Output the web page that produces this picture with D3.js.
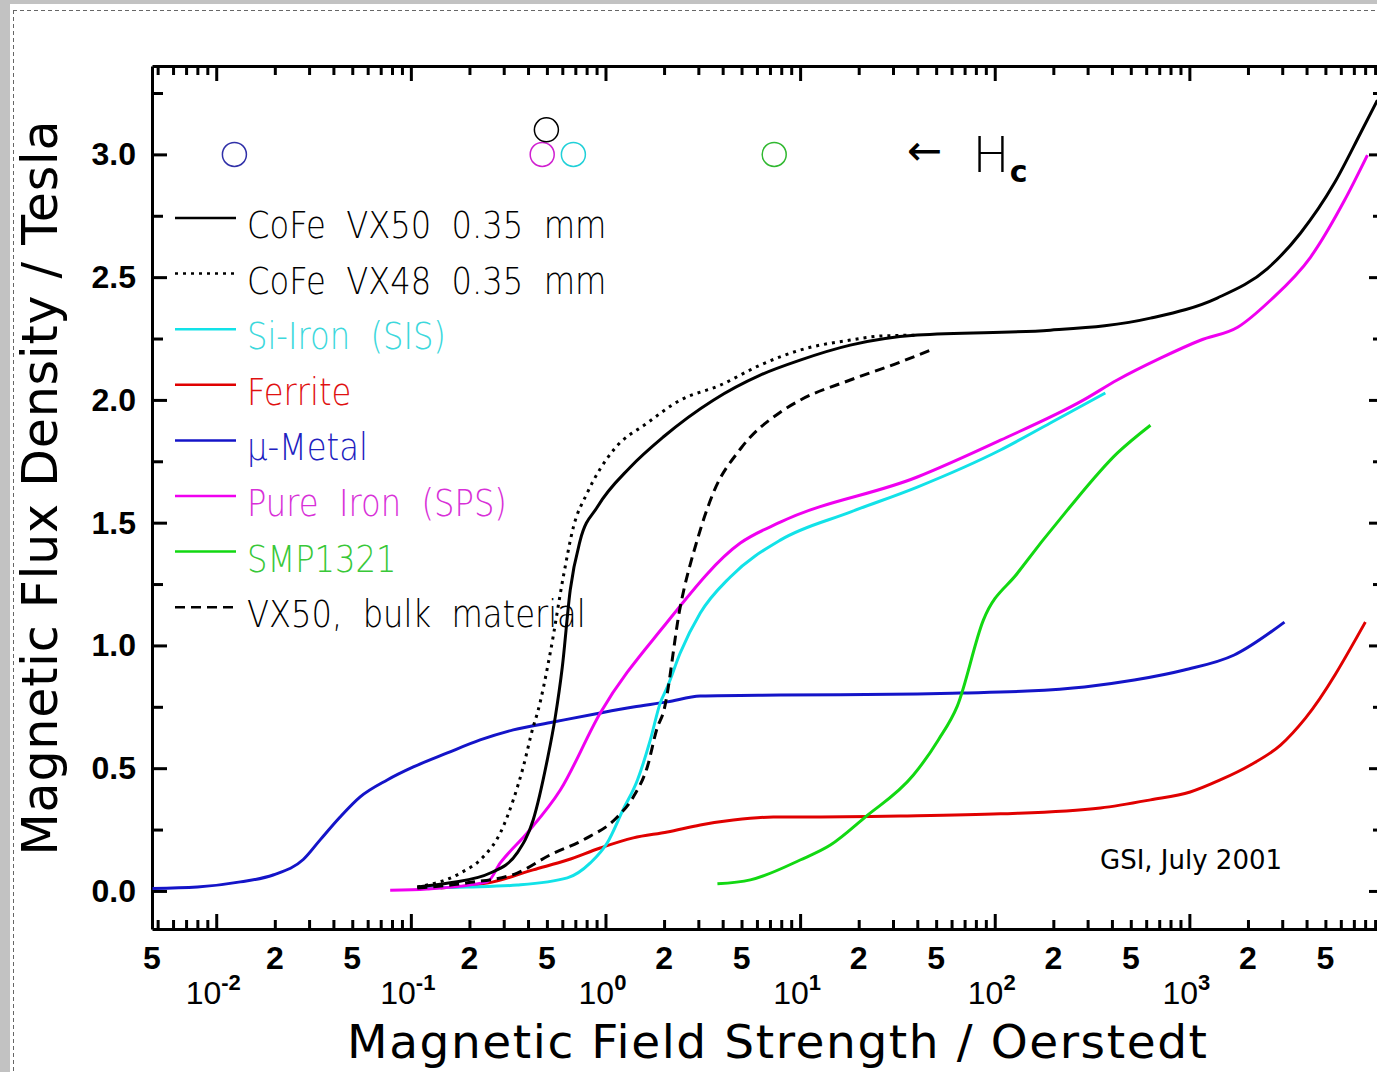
<!DOCTYPE html>
<html>
<head>
<meta charset="utf-8">
<script src="https://cdn.jsdelivr.net/npm/d3@7"></script>
<style>
  body { margin: 0; background: #fff; }
  svg { display: block; }
</style>
</head>
<body>
<div id="chart"></div>
<script>
// ---- data (H in Oersted, B in Tesla) ----
const legendNames = ["CoFe VX50 0.35 mm", "CoFe VX48 0.35 mm", "Si-Iron (SIS)", "Ferrite",
                     "\u00b5-Metal", "Pure Iron (SPS)", "SMP1321", "VX50, bulk material"];

const cofeVx50H = [0.108, 0.159, 0.256, 0.352, 0.425, 0.502, 0.552, 0.600, 0.659, 0.742, 0.908, 1.34, 1.98, 3.58, 6.24, 10, 18.1, 40, 193, 631, 1390, 2520, 3720, 5560, 7570, 9250];
const cofeVx50B = [0.016, 0.033, 0.073, 0.155, 0.289, 0.533, 0.708, 0.912, 1.226, 1.429, 1.564, 1.726, 1.849, 1.999, 2.101, 2.162, 2.223, 2.264, 2.284, 2.333, 2.415, 2.535, 2.679, 2.883, 3.086, 3.221];

const cofeVx48H = [0.108, 0.180, 0.235, 0.288, 0.336, 0.378, 0.425, 0.447, 0.520, 0.607, 0.684, 0.806, 1.10, 1.64, 2.42, 3.89, 6.24, 10, 18.1, 25.8, 40];
const cofeVx48B = [0.016, 0.073, 0.138, 0.236, 0.371, 0.505, 0.668, 0.725, 0.969, 1.279, 1.482, 1.621, 1.796, 1.906, 1.999, 2.06, 2.142, 2.203, 2.244, 2.26, 2.264];

const siIronH = [0.121, 0.195, 0.352, 0.637, 0.836, 1.02, 1.23, 1.46, 1.70, 1.91, 2.08, 2.42, 3.07, 4.38, 7.91, 18.1, 40, 107, 193, 370];
const siIronB = [0.012, 0.016, 0.024, 0.053, 0.114, 0.195, 0.330, 0.452, 0.615, 0.765, 0.831, 0.969, 1.132, 1.279, 1.429, 1.543, 1.645, 1.796, 1.906, 2.028];

const ferriteH = [0.142, 0.265, 0.425, 0.637, 0.94, 1.39, 2.08, 3.07, 4.54, 7.28, 10, 32.7, 107, 349, 631, 1010, 1440, 2060, 2940, 3950, 8020];
const ferriteB = [0.012, 0.037, 0.086, 0.126, 0.175, 0.216, 0.240, 0.269, 0.289, 0.301, 0.301, 0.305, 0.314, 0.338, 0.371, 0.403, 0.452, 0.513, 0.594, 0.704, 1.095];

const muMetalH = [0.0047, 0.008, 0.0133, 0.0196, 0.028, 0.0342, 0.0433, 0.0549, 0.0756, 0.103, 0.154, 0.227, 0.336, 0.539, 0.94, 1.39, 2.08, 3.07, 7.9, 40, 66.5, 147, 289, 521, 942, 1700, 3080];
const muMetalB = [0.010, 0.016, 0.037, 0.065, 0.128, 0.208, 0.301, 0.383, 0.452, 0.505, 0.562, 0.615, 0.656, 0.688, 0.725, 0.749, 0.770, 0.794, 0.798, 0.802, 0.806, 0.814, 0.831, 0.859, 0.900, 0.961, 1.095];

const pureIronH = [0.0783, 0.121, 0.247, 0.288, 0.396, 0.586, 0.94, 1.98, 4.93, 7.91, 40, 107, 285, 426, 710, 1140, 1770, 2610, 4190, 6270, 8220];
const pureIronB = [0.003, 0.008, 0.037, 0.114, 0.236, 0.411, 0.725, 1.075, 1.417, 1.502, 1.686, 1.836, 1.999, 2.081, 2.170, 2.243, 2.296, 2.406, 2.581, 2.813, 2.997];

const smpH = [3.76, 5.55, 10, 14.3, 21.6, 38.2, 51.3, 64.2, 87.4, 131, 236, 426, 631];
const smpB = [0.029, 0.045, 0.126, 0.187, 0.301, 0.472, 0.615, 0.753, 1.103, 1.295, 1.551, 1.783, 1.897];

const bulkH = [0.108, 0.195, 0.352, 0.520, 0.768, 1.15, 1.39, 1.64, 1.85, 1.98, 2.42, 2.96, 3.58, 4.93, 7.91, 10, 18.1, 32.7, 46.7];
const bulkB = [0.012, 0.033, 0.073, 0.147, 0.208, 0.301, 0.383, 0.505, 0.668, 0.725, 1.156, 1.429, 1.621, 1.800, 1.950, 1.999, 2.081, 2.154, 2.203];

// coercive field markers (H_c), drawn near the top of the plot
const hcMaterial = ["\u00b5-Metal", "Pure Iron (SPS)", "CoFe VX50 0.35 mm", "Si-Iron (SIS)", "SMP1321"];
const hcH = [0.0124, 0.473, 0.497, 0.684, 7.36];
const hcB = [3.0, 3.0, 3.1, 3.0, 3.0];

// tick labels
const yLabelValues = [0, 0.5, 1.0, 1.5, 2.0, 2.5, 3.0];
const yLabelText = ["0.0", "0.5", "1.0", "1.5", "2.0", "2.5", "3.0"];
const xLabelValues = [0.005, 0.02, 0.05, 0.2, 0.5, 2, 5, 20, 50, 200, 500, 2000, 5000];
const xLabelText = ["5", "2", "5", "2", "5", "2", "5", "2", "5", "2", "5", "2", "5"];
const decadeValues = [0.01, 0.1, 1, 10, 100, 1000];
const decadeExp = ["-2", "-1", "0", "1", "2", "3"];

// ---- layout ----
const W = 1377, H = 1072;
const plot = { left: 152, right: 1384, top: 66, bottom: 929 };

const styleOf = {
    "CoFe VX50 0.35 mm": { color: "#000000", text: "#000000", dash: null },
    "CoFe VX48 0.35 mm": { color: "#000000", text: "#000000", dash: "3,5" },
    "Si-Iron (SIS)":     { color: "#12e2e8", text: "#3cd8dc", dash: null },
    "Ferrite":           { color: "#e00000", text: "#e01010", dash: null },
    "\u00b5-Metal":      { color: "#1414c8", text: "#2020c0", dash: null },
    "Pure Iron (SPS)":   { color: "#f000f0", text: "#d830d8", dash: null },
    "SMP1321":           { color: "#12d812", text: "#38c838", dash: null },
    "VX50, bulk material": { color: "#000000", text: "#000000", dash: "10,6" }
};
const hcColor = ["#3030a8", "#d020d0", "#000000", "#20d0d8", "#30b830"];

const svg = d3.select("#chart")
    .append("svg")
    .attr("width", W)
    .attr("height", H);

// grey window edge + dashed frame like the original screenshot
svg.append("rect").attr("width", W).attr("height", H).attr("fill", "#c2c2c2");
svg.append("rect").attr("x", 10).attr("y", 4).attr("width", W - 10).attr("height", H - 4).attr("fill", "#fff");
svg.append("line").attr("x1", 13.5).attr("x2", 13.5).attr("y1", 10).attr("y2", H)
    .attr("stroke", "#666").attr("stroke-dasharray", "4,3");
svg.append("line").attr("x1", 13).attr("x2", W).attr("y1", 10.5).attr("y2", 10.5)
    .attr("stroke", "#666").attr("stroke-dasharray", "4,3");

// scales
const x = d3.scaleLog()
    .domain([Math.pow(10, -2.33), 1e4])
    .range([plot.left, plot.right]);

const y = d3.scaleLinear()
    .domain([-0.155, 3.36])
    .range([plot.bottom, plot.top]);

// all log ticks inside the domain
const xTicks = [];
for (let n = -3; n <= 4; n++) {
    for (let k = 1; k <= 9; k++) {
        const v = k * Math.pow(10, n);
        if (v >= x.domain()[0] && v <= x.domain()[1]) xTicks.push(v);
    }
}
const isDecade = v => Math.abs(Math.log10(v) - Math.round(Math.log10(v))) < 1e-9;
const yTicks = d3.range(0, 3.26, 0.25);
const isHalf = v => Math.abs(v * 2 - Math.round(v * 2)) < 1e-9;

function styleAxis(g) {
    g.selectAll("path, line").attr("stroke", "#000").attr("stroke-width", 3);
    g.selectAll("text").remove();
}

// bottom & top axes (ticks point inward)
svg.append("g")
    .attr("transform", "translate(0," + plot.bottom + ")")
    .call(d3.axisBottom(x).tickValues(xTicks).tickSize(-9).tickSizeOuter(0).tickFormat(""))
    .call(styleAxis)
    .selectAll(".tick line").filter(d => isDecade(d)).attr("y2", -15);

svg.append("g")
    .attr("transform", "translate(0," + plot.top + ")")
    .call(d3.axisTop(x).tickValues(xTicks).tickSize(-9).tickSizeOuter(0).tickFormat(""))
    .call(styleAxis)
    .selectAll(".tick line").filter(d => isDecade(d)).attr("y2", 15);

// left & right axes
svg.append("g")
    .attr("transform", "translate(" + plot.left + ",0)")
    .call(d3.axisLeft(y).tickValues(yTicks).tickSize(-11).tickSizeOuter(0).tickFormat(""))
    .call(styleAxis)
    .selectAll(".tick line").filter(d => isHalf(d)).attr("x2", 15);

svg.append("g")
    .attr("transform", "translate(" + plot.right + ",0)")
    .call(d3.axisRight(y).tickValues(yTicks).tickSize(-11).tickSizeOuter(0).tickFormat(""))
    .call(styleAxis)
    .selectAll(".tick line").filter(d => isHalf(d)).attr("x2", -15);

// tick labels
svg.append("g").selectAll("text")
    .data(yLabelValues)
    .join("text")
    .attr("x", 136)
    .attr("y", d => y(d) + 11)
    .attr("text-anchor", "end")
    .style("font-family", "Liberation Sans, Arial, sans-serif")
    .style("font-weight", "bold")
    .style("font-size", "32px")
    .text((d, i) => yLabelText[i]);

svg.append("g").selectAll("text")
    .data(xLabelValues)
    .join("text")
    .attr("x", (d, i) => i === 0 ? plot.left : x(d))
    .attr("y", 969)
    .attr("text-anchor", "middle")
    .style("font-family", "Liberation Sans, Arial, sans-serif")
    .style("font-weight", "bold")
    .style("font-size", "32px")
    .text((d, i) => xLabelText[i]);

const dec = svg.append("g").selectAll("text")
    .data(decadeValues)
    .join("text")
    .attr("x", d => x(d) - 3)
    .attr("y", 1004)
    .attr("text-anchor", "middle")
    .style("font-family", "Liberation Sans, Arial, sans-serif")
    .style("font-size", "32px");
dec.append("tspan").text("10");
dec.append("tspan")
    .attr("dy", -14)
    .style("font-size", "22px")
    .style("font-weight", "bold")
    .text((d, i) => decadeExp[i]);

// axis titles
svg.append("text")
    .attr("x", 777)
    .attr("y", 1058)
    .attr("text-anchor", "middle")
    .attr("textLength", 860)
    .attr("lengthAdjust", "spacing")
    .style("font-family", "DejaVu Sans, sans-serif")
    .style("font-size", "47px")
    .text("Magnetic Field Strength / Oerstedt");

svg.append("text")
    .attr("transform", "translate(57,488) rotate(-90)")
    .attr("text-anchor", "middle")
    .attr("textLength", 735)
    .attr("lengthAdjust", "spacing")
    .style("font-family", "DejaVu Sans, sans-serif")
    .style("font-size", "49px")
    .text("Magnetic Flux Density / Tesla");

// curves
svg.append("clipPath").attr("id", "plotclip")
    .append("rect")
    .attr("x", plot.left).attr("y", plot.top)
    .attr("width", plot.right - plot.left).attr("height", plot.bottom - plot.top);

const series = [
    { name: legendNames[4], h: muMetalH, b: muMetalB },
    { name: legendNames[3], h: ferriteH, b: ferriteB },
    { name: legendNames[6], h: smpH, b: smpB },
    { name: legendNames[2], h: siIronH, b: siIronB },
    { name: legendNames[5], h: pureIronH, b: pureIronB },
    { name: legendNames[7], h: bulkH, b: bulkB },
    { name: legendNames[1], h: cofeVx48H, b: cofeVx48B },
    { name: legendNames[0], h: cofeVx50H, b: cofeVx50B }
];

const line = d3.line()
    .x(d => x(d[0]))
    .y(d => y(d[1]))
    .curve(d3.curveMonotoneX);

svg.append("g")
    .attr("clip-path", "url(#plotclip)")
    .selectAll("path")
    .data(series)
    .join("path")
    .attr("d", s => line(s.h.map((v, i) => [v, s.b[i]])))
    .attr("fill", "none")
    .attr("stroke", s => styleOf[s.name].color)
    .attr("stroke-width", 3)
    .attr("stroke-dasharray", s => styleOf[s.name].dash);

// legend
const legend = svg.append("g").selectAll("g")
    .data(legendNames)
    .join("g")
    .attr("transform", (d, i) => "translate(0," + (218 + i * 55.6) + ")");

legend.append("line")
    .attr("x1", 175).attr("x2", 236)
    .attr("stroke", d => styleOf[d].color)
    .attr("stroke-width", 2.5)
    .attr("stroke-dasharray", d => styleOf[d].dash);

// narrow, thin lettering like the plotter font
legend.append("text")
    .attr("transform", "translate(247,20) scale(0.87,1)")
    .attr("fill", d => styleOf[d].text)
    .style("font-family", "DejaVu Sans, sans-serif")
    .style("font-weight", 200)
    .style("font-size", "37px")
    .style("white-space", "pre")
    .text(d => d.replace(/ /g, "  "));

// H_c markers
svg.append("g").selectAll("circle")
    .data(hcH)
    .join("circle")
    .attr("cx", d => x(d))
    .attr("cy", (d, i) => y(hcB[i]))
    .attr("r", 12)
    .attr("fill", "none")
    .attr("stroke", (d, i) => hcColor[i])
    .attr("stroke-width", 1.5);

const hc = svg.append("text")
    .attr("x", 907)
    .attr("y", 172)
    .style("font-family", "DejaVu Sans, sans-serif")
    .style("font-size", "50px");
hc.append("tspan").style("font-size", "42px").attr("dy", -7).text("\u2190");
hc.append("tspan").attr("dx", 30).attr("dy", 7).style("font-weight", 200).text("H");
hc.append("tspan").attr("dy", 10).style("font-size", "30px").style("font-weight", "bold").text("c");

// credit
svg.append("text")
    .attr("x", 1100)
    .attr("y", 869)
    .style("font-family", "DejaVu Sans, sans-serif")
    .style("font-size", "26px")
    .text("GSI, July 2001");
</script>
</body>
</html>
